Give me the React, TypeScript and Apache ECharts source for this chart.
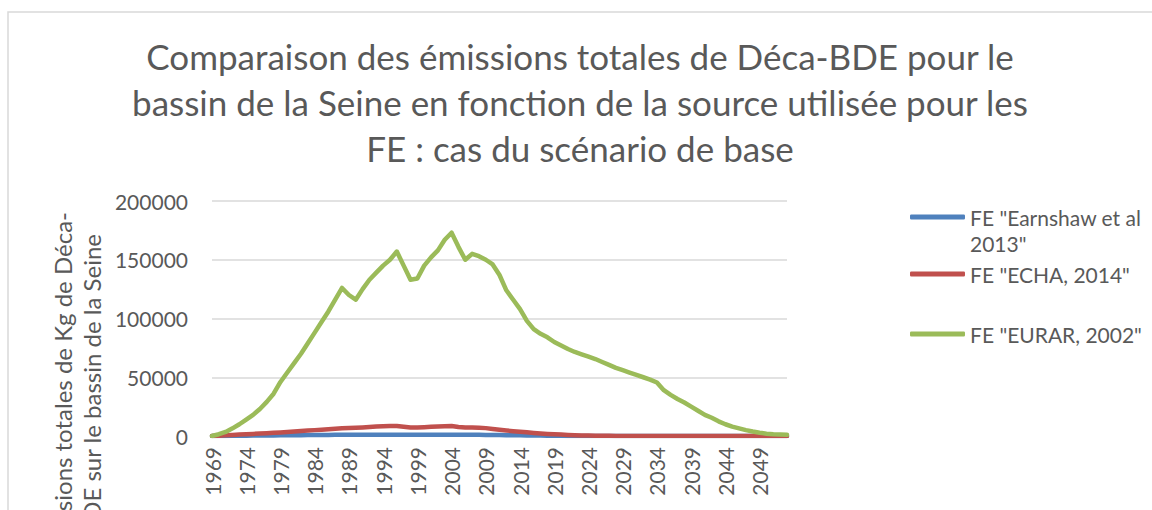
import React, { useEffect, useRef } from "react";
import * as echarts from "echarts";

const years: string[] = [];
for (let y = 1969; y <= 2053; y++) years.push(String(y));

const titleText =
  "Comparaison des émissions totales de Déca-BDE pour le\nbassin de la Seine en fonction de la source utilisée pour les\nFE : cas du scénario de base";

const seriesNames = ['FE "Earnshaw et al 2013"', 'FE "ECHA, 2014"', 'FE "EURAR, 2002"'];

const earnshaw = [
  0, 50, 100, 150, 200, 260, 320, 380, 440, 500,
  560, 620, 680, 740, 800, 860, 910, 950, 990, 1030,
  1050, 1060, 1070, 1080, 1090, 1100, 1100, 1100, 1050, 1020,
  1030, 1040, 1050, 1060, 1070, 1080, 1030, 1000, 1000, 980,
  950, 880, 800, 720, 640, 560, 480, 400, 330, 260,
  200, 150, 100, 70, 40, 20, 0, 0, 0, 0,
  0, 0, 0, 0, 0, 0, 0, 0, 0, 0,
  0, 0, 0, 0, 0, 0, 0, 0, 0, 0,
  0, 0, 0, 0, 0,
];

const echa = [
  0, 300, 600, 900, 1200, 1500, 1800, 2100, 2400, 2700,
  3000, 3400, 3800, 4200, 4600, 5000, 5400, 5800, 6200, 6600,
  6800, 7000, 7300, 7700, 8000, 8300, 8500, 8500, 7800, 7200,
  7300, 7500, 7800, 8100, 8300, 8500, 7600, 7200, 7300, 7000,
  6700, 6000, 5300, 4700, 4100, 3600, 3100, 2600, 2200, 1800,
  1500, 1200, 900, 700, 500, 400, 300, 200, 150, 100,
  80, 60, 50, 40, 30, 20, 10, 0, 0, 0,
  0, 0, 0, 0, 0, 0, 0, 0, 0, 0,
  0, 0, 0, 0, 0,
];

const eurar = [
  0, 1500, 3500, 6500, 10000, 14000, 18000, 23000, 29000, 36000,
  46000, 54000, 62000, 70000, 79000, 88000, 97000, 106000, 116000, 126000,
  120000, 116000, 125000, 133000, 139000, 145000, 150000, 157000, 145000, 133000,
  134000, 145000, 152000, 158000, 167000, 173000, 161000, 150000, 155000, 153000,
  150000, 146000, 137000, 124000, 116000, 108000, 98000, 91000, 87000, 84000,
  80000, 77000, 74000, 71500, 69500, 67500, 65500, 63000, 60500, 58000,
  56000, 54000, 52000, 50000, 48000, 45500, 39000, 35000, 31500, 28500,
  25000, 21500, 18000, 15500, 12500, 10000, 8000, 6500, 5000, 3800,
  2800, 2000, 1500, 1200, 1000,
];

const colors = ["#4F81BD", "#C0504D", "#9BBB59"];
const FONT = "Lato";
const GREY = "#595959";

export default function App() {
  const ref = useRef<HTMLDivElement>(null);
  useEffect(() => {
    const chart = echarts.init(ref.current!, null, { renderer: "svg" });
    const legendBase = {
      orient: "vertical" as const,
      left: 910,
      icon: "roundRect",
      itemWidth: 55,
      itemHeight: 5,
      selectedMode: false,
      padding: 0,
      textStyle: { color: GREY, fontSize: 21, fontFamily: FONT, lineHeight: 26 },
    };
    chart.setOption({
      animation: false,
      color: colors,
      title: {
        text: titleText,
        left: 580,
        top: 33,
        textAlign: "center",
        padding: 0,
        textStyle: {
          color: GREY,
          fontSize: 35,
          fontWeight: "normal",
          fontFamily: FONT,
          lineHeight: 46,
        },
      },
      legend: [
        {
          ...legendBase,
          top: 178,
          data: [seriesNames[0]],
          formatter: () => '\nFE "Earnshaw et al\n2013"',
        },
        { ...legendBase, top: 261, data: [seriesNames[1]] },
        { ...legendBase, top: 321, data: [seriesNames[2]] },
      ],
      grid: { left: 212, right: 365, top: 201, bottom: 74 },
      xAxis: {
        type: "category",
        data: years,
        boundaryGap: false,
        axisLine: { show: true, lineStyle: { color: "#D9D9D9", width: 1.5 } },
        axisTick: { show: false },
        axisLabel: {
          interval: 4,
          rotate: 90,
          margin: 11,
          color: GREY,
          fontSize: 21,
          fontFamily: FONT,
        },
      },
      yAxis: {
        type: "value",
        min: 0,
        max: 200000,
        interval: 50000,
        axisLine: { show: false },
        axisTick: { show: false },
        splitLine: { lineStyle: { color: "#D9D9D9", width: 1.5 } },
        axisLabel: {
          margin: 24,
          color: GREY,
          fontSize: 21,
          fontFamily: FONT,
          formatter: (v: number) => String(v),
        },
      },
      graphic: [
        {
          type: "rect",
          shape: { x: 8, y: 12, width: 1300, height: 700 },
          style: { fill: "none", stroke: "#D9D9D9", lineWidth: 1.5 },
          silent: true,
          z: -10,
        },
        {
          type: "text",
          x: 62,
          y: 212,
          rotation: Math.PI / 2,
          style: {
            text: "Emissions totales de Kg de Déca-",
            fill: GREY,
            fontSize: 24,
            fontFamily: FONT,
            align: "right",
            verticalAlign: "middle",
          },
        },
        {
          type: "text",
          x: 91,
          y: 234,
          rotation: Math.PI / 2,
          style: {
            text: "BDE sur le bassin de la Seine",
            fill: GREY,
            fontSize: 24,
            fontFamily: FONT,
            align: "right",
            verticalAlign: "middle",
          },
        },
      ],
      series: [earnshaw, echa, eurar].map((d, i) => ({
        name: seriesNames[i],
        type: "line",
        data: d,
        showSymbol: false,
        symbol: "none",
        lineStyle: { width: 4.5, cap: "round", join: "round", color: colors[i] },
        z: 2 + i,
      })),
    });
    return () => chart.dispose();
  }, []);
  return <div ref={ref} style={{ width: 1152, height: 510, position: "absolute", left: 0, top: 0 }} />;
}
